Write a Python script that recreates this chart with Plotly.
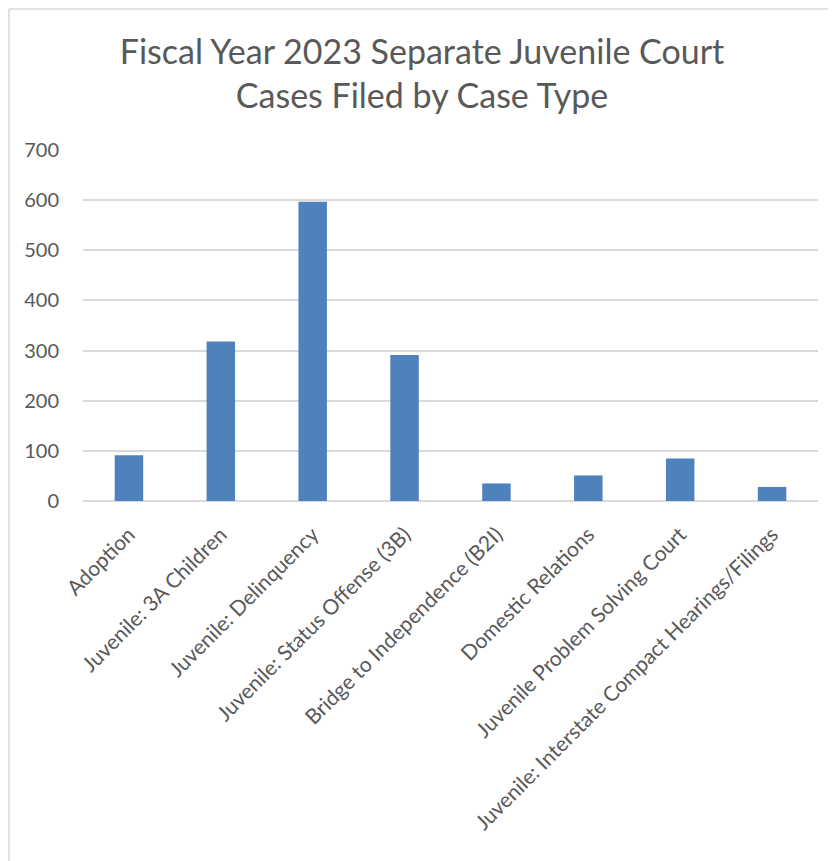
import plotly.graph_objects as go

categories = [
    "Adoption",
    "Juvenile: 3A Children",
    "Juvenile: Delinquency",
    "Juvenile: Status Offense (3B)",
    "Bridge to Independence (B2I)",
    "Domestic Relations",
    "Juvenile Problem Solving Court",
    "Juvenile: Interstate Compact Hearings/Filings",
]
cases_filed = [91, 318, 597, 291, 35, 51, 85, 28]
y_ticks = [0, 100, 200, 300, 400, 500, 600, 700]

# page has an 8px body margin, so the figure is drawn 8px right/down
OFF = 8
W, H = 836 - OFF, 861 - OFF
L, R, T, B = 83 - OFF, 18, 150 - OFF, 360
pw, ph = W - L - R, H - T - B

FONT = "Lato"
GREY = "#595959"

fig = go.Figure(
    go.Bar(
        x=categories,
        y=cases_filed,
        marker=dict(color="#4F81BD", line=dict(color="#4F81BD", width=0)),
    )
)


def fx(p):
    # figure pixel -> paper x
    return (p - L) / pw


def fy(p):
    # figure pixel -> paper y
    return (H - B - p) / ph


fig.update_layout(
    width=W,
    height=H,
    margin=dict(l=L, r=R, t=T, b=B, autoexpand=False),
    paper_bgcolor="white",
    plot_bgcolor="white",
    bargap=0.69,
    showlegend=False,
    title=dict(
        text="Fiscal Year 2023 Separate Juvenile Court<br>Cases Filed by Case Type",
        x=0.5,
        xanchor="center",
        xref="container",
        y=1 - (64 - OFF) / H,
        yanchor="middle",
        yref="container",
        font=dict(family=FONT, size=34, color=GREY),
    ),
    xaxis=dict(
        tickangle=-45,
        tickfont=dict(family=FONT, size=21, color=GREY),
        showgrid=False,
        showline=False,
        ticks="outside",
        ticklen=12,
        tickcolor="rgba(0,0,0,0)",
    ),
    yaxis=dict(
        range=[0, 700],
        tickvals=y_ticks,
        ticktext=[str(v) for v in y_ticks],
        tickfont=dict(family=FONT, size=20, color=GREY),
        showgrid=True,
        gridcolor="#D9D9D9",
        gridwidth=1.5,
        zeroline=True,
        zerolinecolor="#D9D9D9",
        zerolinewidth=1.5,
        showline=False,
        ticks="outside",
        ticklen=19,
        tickcolor="rgba(0,0,0,0)",
    ),
    shapes=[
        dict(type="line", xref="paper", yref="paper",
             x0=fx(1), x1=fx(1), y0=fy(1), y1=fy(900),
             line=dict(color="#D9D9D9", width=1.5)),
        dict(type="line", xref="paper", yref="paper",
             x0=fx(1), x1=fx(900), y0=fy(1), y1=fy(1),
             line=dict(color="#D9D9D9", width=1.5)),
    ],
)

fig.write_html("out.html")
